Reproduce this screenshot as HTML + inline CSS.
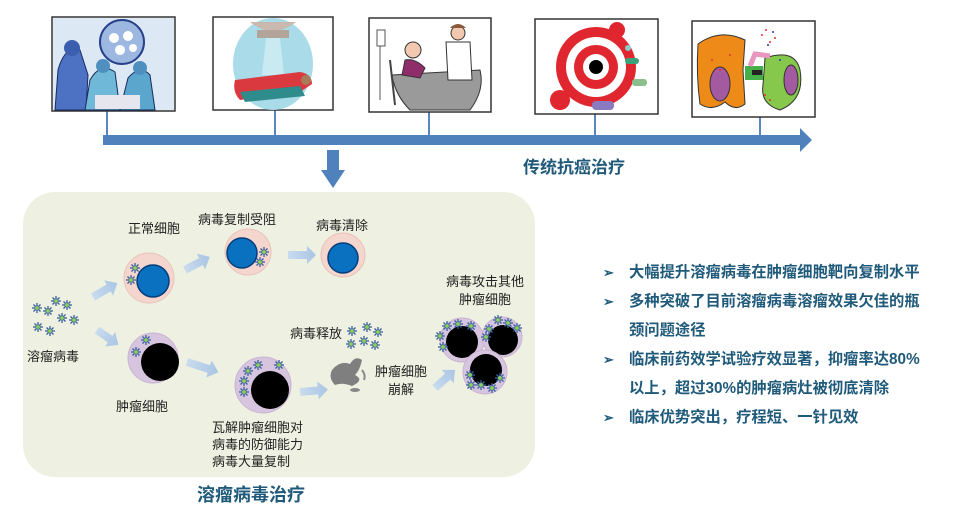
<!DOCTYPE html>
<html><head><meta charset="utf-8"><style>
body{margin:0;width:967px;height:511px;background:#fff;overflow:hidden;position:relative;font-family:"Liberation Sans","Noto Sans CJK SC",sans-serif}
.t{position:absolute;white-space:nowrap;color:#222;font-size:13px;line-height:15px}
.b{position:absolute;white-space:nowrap;color:#1f5a7a;font-weight:bold}
.r{position:absolute;left:603px;color:#1f5a7a;font-weight:bold;font-size:15.3px;line-height:29px;width:364px;white-space:nowrap}
.r div{position:relative;padding-left:26px}
.r div span{position:absolute;left:0;font-size:13px}
</style></head><body>
<svg width="967" height="511" style="position:absolute;left:0;top:0">
<defs>
<g id="v"><g stroke="#3a5f9e" stroke-width="1.3"><line x1="-5" y1="0" x2="5" y2="0"/><line x1="0" y1="-5" x2="0" y2="5"/><line x1="-3.5" y1="-3.5" x2="3.5" y2="3.5"/><line x1="-3.5" y1="3.5" x2="3.5" y2="-3.5"/></g><circle r="2.2" fill="#8ccf5a" stroke="#3a5f9e" stroke-width=".6"/></g>
<linearGradient id="ar" x1="0" x2="1"><stop offset="0" stop-color="#c9dbee"/><stop offset="1" stop-color="#a9c5e4"/></linearGradient>
</defs>
<g stroke="#5a87c0" stroke-width="2">
<line x1="107" y1="111" x2="107" y2="137"/><line x1="275" y1="110" x2="275" y2="137"/><line x1="429" y1="112" x2="429" y2="137"/><line x1="595" y1="114" x2="595" y2="137"/><line x1="760" y1="117" x2="760" y2="137"/></g>
<polygon points="103,135 800,135 800,128 812,140 800,152 800,145 103,145" fill="#4f81bd"/>
<polygon points="327,150 339,150 339,170 345,170 333,188 321,170 327,170" fill="#4f81bd"/>
<g stroke="#333" stroke-width="1.5" fill="#fff">
<rect x="52" y="17" width="123" height="94"/><rect x="213" y="17" width="120" height="93"/><rect x="369" y="18" width="122" height="94"/><rect x="535" y="19" width="123" height="95"/><rect x="692" y="21" width="123" height="96"/></g>
<g><rect x="53" y="18" width="121" height="92" fill="#dde8f5"/>
<circle cx="122" cy="42" r="22" fill="#9cb8e0" stroke="#27408a" stroke-width="2"/>
<circle cx="114" cy="38" r="5" fill="#fff"/><circle cx="128" cy="36" r="5" fill="#fff"/><circle cx="120" cy="50" r="5" fill="#fff"/><circle cx="133" cy="48" r="4" fill="#fff"/>
<path d="M55 110 L58 70 Q65 45 80 50 L88 75 L86 110Z" fill="#4d72c4" stroke="#1b2a5e"/>
<path d="M85 110 L90 80 Q100 62 115 72 L120 110Z" fill="#6fb8d8" stroke="#1b2a5e"/>
<path d="M120 110 L128 78 Q140 64 150 75 L155 110Z" fill="#5aa6cc" stroke="#1b2a5e"/>
<circle cx="72" cy="48" r="8" fill="#3b5fae"/><circle cx="103" cy="66" r="7" fill="#4e8fc0"/><circle cx="140" cy="68" r="7" fill="#4e8fc0"/>
<rect x="95" y="95" width="45" height="14" fill="#e6e6ee"/></g>
<g><ellipse cx="273" cy="64" rx="40" ry="46" fill="#a9dbe8"/>
<path d="M250 22 Q273 40 296 22Z" fill="#c9b8ae"/><rect x="257" y="30" width="32" height="8" fill="#b3a49a"/>
<polygon points="266,38 280,38 284,75 262,75" fill="#d9f1f6" opacity=".7"/>
<path d="M235 80 L300 72 Q312 74 312 84 L300 92 L240 100 Q232 92 235 80Z" fill="#d9393f"/>
<path d="M240 92 L300 86 L305 96 L245 102Z" fill="#2e8c8c"/>
<circle cx="306" cy="80" r="5" fill="#a97a5a"/></g>
<g><path d="M392 75 L480 70 Q485 90 470 110 L410 110 Q395 95 392 75Z" fill="#9a9a9a" stroke="#333"/>
<circle cx="413" cy="50" r="8" fill="#f2c9b0" stroke="#333"/><path d="M405 60 Q415 58 425 68 L420 78 L402 75Z" fill="#8e2d6a" stroke="#333"/>
<circle cx="458" cy="33" r="7" fill="#f2c9b0" stroke="#333"/><path d="M450 28 Q458 20 466 28" fill="#8a5a3a"/>
<path d="M446 42 L470 42 L472 80 L448 80Z" fill="#fff" stroke="#333"/>
<line x1="380" y1="30" x2="380" y2="100" stroke="#555"/><rect x="377" y="30" width="8" height="16" fill="#fff" stroke="#555"/>
<path d="M390 60 L395 105" stroke="#444" stroke-width="2"/></g>
<g><circle cx="596" cy="67" r="40" fill="#e0262e"/><circle cx="596" cy="67" r="30" fill="#fff"/><circle cx="596" cy="67" r="22" fill="#e0262e"/><circle cx="596" cy="67" r="13" fill="#fff"/><circle cx="596" cy="67" r="7" fill="#000"/>
<circle cx="560" cy="100" r="10" fill="#e0262e"/><circle cx="617" cy="30" r="8" fill="#e0262e"/>
<rect x="625" y="58" width="14" height="6" rx="3" fill="#3aa37a"/><rect x="632" y="79" width="15" height="7" rx="3" fill="#8bbf8b"/><rect x="592" y="101" width="22" height="9" rx="4" fill="#8a7ac0"/><circle cx="628" cy="48" r="3" fill="#8cc"/></g>
<g><path d="M698 44 Q720 28 745 40 L743 70 L745 104 Q735 112 725 102 Q712 112 700 104 Q696 75 698 44Z" fill="#ee8a18" stroke="#333"/>
<ellipse cx="720" cy="84" rx="10" ry="17" fill="#a45aa0" stroke="#333"/>
<path d="M765 58 Q795 48 800 70 Q805 100 780 110 Q760 104 763 85Z" fill="#85c84c" stroke="#333"/>
<ellipse cx="791" cy="80" rx="7" ry="15" fill="#a45aa0" stroke="#333"/>
<rect x="745" y="66" width="18" height="14" fill="#45b04a"/><rect x="752" y="70" width="10" height="5" fill="#222"/>
<path d="M750 66 L755 54 L770 56" stroke="#e898c0" stroke-width="5" fill="none"/>
<g fill="#d33"><circle cx="762" cy="35" r="1"/><circle cx="770" cy="42" r="1"/><circle cx="766" cy="30" r="1"/><circle cx="775" cy="38" r="1"/><circle cx="712" cy="60" r="1"/><circle cx="720" cy="70" r="1"/><circle cx="730" cy="55" r="1"/><circle cx="765" cy="95" r="1"/><circle cx="770" cy="100" r="1"/></g>
<g fill="#33c"><circle cx="768" cy="45" r="1"/><circle cx="773" cy="32" r="1"/><circle cx="780" cy="60" r="1"/></g></g>
<rect x="23" y="192" width="512" height="285" rx="32" fill="#eef1e1"/>
<g fill="url(#ar)">
<g transform="translate(93,297) rotate(-30)"><polygon points="0,-4 18,-4 18,-9 28,0 18,9 18,4 0,4"/></g>
<g transform="translate(185,270) rotate(-28)"><polygon points="0,-4 18,-4 18,-9 28,0 18,9 18,4 0,4"/></g>
<g transform="translate(288,255)"><polygon points="0,-4 19,-4 19,-9 28,0 19,9 19,4 0,4"/></g>
<g transform="translate(97,330) rotate(35)"><polygon points="0,-4 16,-4 16,-9 26,0 16,9 16,4 0,4"/></g>
<g transform="translate(187,362) rotate(18)"><polygon points="0,-4 23,-4 23,-9 33,0 23,9 23,4 0,4"/></g>
<g transform="translate(300,392) rotate(-5)"><polygon points="0,-4 18,-4 18,-9 28,0 18,9 18,4 0,4"/></g>
<g transform="translate(435,388) rotate(-42)"><polygon points="0,-4 17,-4 17,-9 27,0 17,9 17,4 0,4"/></g>
</g>
<circle cx="149" cy="278" r="25" fill="#f5d6cf" stroke="#e8c2b8"/><circle cx="153" cy="281" r="16" fill="#0a70c0" stroke="#063e7a" stroke-width="1.5"/>
<use href="#v" x="135" y="268"/><use href="#v" x="131" y="280"/>
<circle cx="248" cy="252" r="23" fill="#f5d6cf" stroke="#e8c2b8"/><circle cx="242" cy="253" r="15" fill="#0a70c0" stroke="#063e7a" stroke-width="1.5"/>
<use href="#v" x="264" y="252"/><use href="#v" x="260" y="262"/>
<circle cx="343" cy="255" r="22" fill="#f5d6cf" stroke="#e8c2b8"/><circle cx="343" cy="258" r="15" fill="#0a70c0" stroke="#063e7a" stroke-width="1.5"/>
<use href="#v" x="37" y="308"/><use href="#v" x="48" y="311"/><use href="#v" x="56" y="301"/><use href="#v" x="67" y="305"/><use href="#v" x="62" y="318"/><use href="#v" x="74" y="320"/><use href="#v" x="38" y="327"/><use href="#v" x="50" y="331"/>
<circle cx="153" cy="358" r="25" fill="#d7c5df" stroke="#c9b3d3"/><circle cx="160" cy="362" r="19" fill="#000"/>
<use href="#v" x="146" y="340"/><use href="#v" x="136" y="352"/>
<circle cx="263" cy="385" r="28" fill="#d7c5df" stroke="#c9b3d3"/><circle cx="270" cy="390" r="19" fill="#000"/>
<use href="#v" x="258" y="365"/><use href="#v" x="279" y="365"/><use href="#v" x="248" y="371"/><use href="#v" x="244" y="381"/><use href="#v" x="244" y="392"/>
<use href="#v" x="352" y="331"/><use href="#v" x="367" y="327"/><use href="#v" x="378" y="332"/><use href="#v" x="351" y="344"/><use href="#v" x="364" y="341"/><use href="#v" x="375" y="345"/>
<path d="M332 370 Q340 360 350 364 Q355 355 362 360 Q360 370 355 375 Q365 380 352 386 Q342 382 335 385 Q328 378 332 370Z" fill="#7f7f7f"/>
<ellipse cx="355" cy="390" rx="5" ry="2" fill="#888"/><path d="M362 370 Q366 375 364 380" stroke="#888" stroke-width="2" fill="none"/>
<circle cx="462" cy="340" r="22" fill="#d7c5df" stroke="#c9b3d3"/><circle cx="462" cy="342" r="16" fill="#000"/>
<circle cx="502" cy="337" r="20" fill="#d7c5df" stroke="#c9b3d3"/><circle cx="503" cy="340" r="15" fill="#000"/>
<circle cx="485" cy="372" r="22" fill="#d7c5df" stroke="#c9b3d3"/><circle cx="486" cy="370" r="16" fill="#000"/>
<use href="#v" x="447" y="326"/><use href="#v" x="458" y="324"/><use href="#v" x="471" y="326"/><use href="#v" x="440" y="336"/><use href="#v" x="443" y="347"/>
<use href="#v" x="489" y="329"/><use href="#v" x="498" y="320"/><use href="#v" x="508" y="323"/><use href="#v" x="517" y="328"/><use href="#v" x="486" y="337"/>
<use href="#v" x="470" y="375"/><use href="#v" x="471" y="385"/><use href="#v" x="481" y="385"/><use href="#v" x="492" y="388"/><use href="#v" x="500" y="378"/>
</svg>
<div class="t" style="left:128px;top:221px">正常细胞</div>
<div class="t" style="left:198px;top:212px">病毒复制受阻</div>
<div class="t" style="left:316px;top:218px">病毒清除</div>
<div class="t" style="left:27px;top:349px">溶瘤病毒</div>
<div class="t" style="left:116px;top:399px">肿瘤细胞</div>
<div class="t" style="left:212px;top:419px;line-height:17px">瓦解肿瘤细胞对<br>病毒的防御能力<br>病毒大量复制</div>
<div class="t" style="left:290px;top:326px">病毒释放</div>
<div class="t" style="left:375px;top:363px;line-height:18px;text-align:center">肿瘤细胞<br>崩解</div>
<div class="t" style="left:446px;top:273px;line-height:18px;text-align:center">病毒攻击其他<br>肿瘤细胞</div>
<div class="b" style="left:523px;top:153px;font-size:17px">传统抗癌治疗</div>
<div class="b" style="left:197px;top:481px;font-size:18px">溶瘤病毒治疗</div>
<div class="r" style="top:258px">
<div><span>➢</span>大幅提升溶瘤病毒在肿瘤细胞靶向复制水平</div>
<div><span>➢</span>多种突破了目前溶瘤病毒溶瘤效果欠佳的瓶<br>颈问题途径</div>
<div><span>➢</span>临床前药效学试验疗效显著，抑瘤率达80%<br>以上，超过30%的肿瘤病灶被彻底清除</div>
<div><span>➢</span>临床优势突出，疗程短、一针见效</div>
</div>
</body></html>
